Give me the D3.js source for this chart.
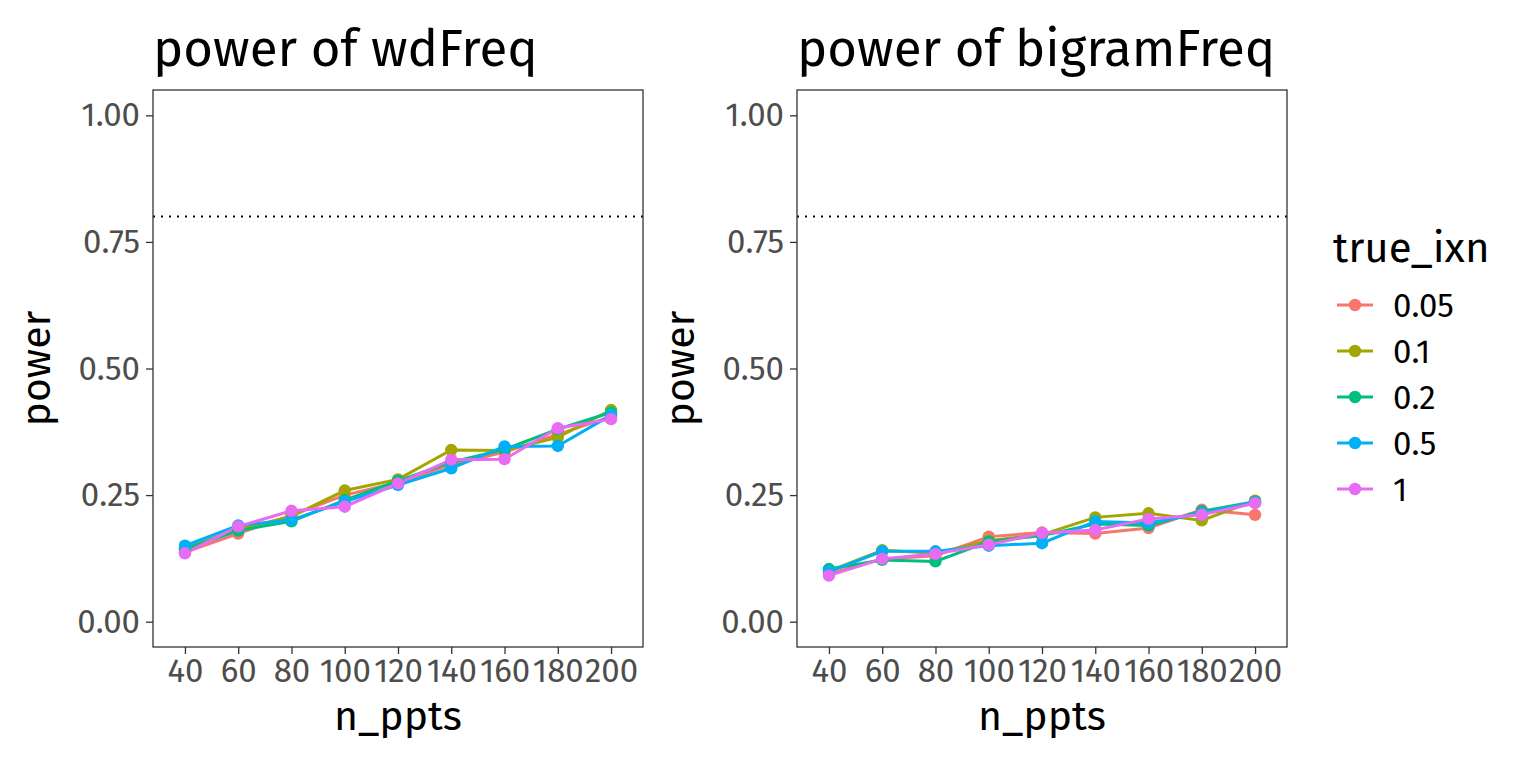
<!DOCTYPE html>
<html>
<head>
    <meta charset="utf-8">
    <script src="https://d3js.org/d3.v7.min.js"></script>
    <style>
        body { margin: 0; background: #fff; }
        text { font-family: "Fira Sans", "Noto Sans", sans-serif; }
    </style>
</head>
<body>
<script>
    var width = 1536, height = 768;

    var nPpts = ["40", "60", "80", "100", "120", "140", "160", "180", "200"];
    var trueIxn = ["0.05", "0.1", "0.2", "0.5", "1"];
    var colours = ["#F8766D", "#A3A500", "#00BF7D", "#00B0F6", "#E76BF3"];
    var yTicks = [0, 0.25, 0.5, 0.75, 1];

    // power of wdFreq, one row per true_ixn level
    var wdFreq = [
        [0.137, 0.174, 0.210, 0.250, 0.275, 0.310, 0.335, 0.370, 0.405],
        [0.145, 0.182, 0.208, 0.259, 0.281, 0.339, 0.338, 0.364, 0.418],
        [0.143, 0.180, 0.198, 0.240, 0.278, 0.315, 0.340, 0.380, 0.413],
        [0.150, 0.190, 0.201, 0.237, 0.270, 0.303, 0.346, 0.347, 0.408],
        [0.135, 0.188, 0.219, 0.227, 0.273, 0.320, 0.321, 0.382, 0.400]
    ];
    // power of bigramFreq
    var bigramFreq = [
        [0.095, 0.124, 0.130, 0.168, 0.176, 0.174, 0.185, 0.221, 0.211],
        [0.100, 0.141, 0.135, 0.160, 0.172, 0.206, 0.214, 0.200, 0.239],
        [0.104, 0.122, 0.119, 0.158, 0.170, 0.193, 0.190, 0.218, 0.237],
        [0.099, 0.139, 0.139, 0.150, 0.155, 0.198, 0.195, 0.214, 0.236],
        [0.091, 0.124, 0.134, 0.152, 0.175, 0.181, 0.203, 0.211, 0.234]
    ];
    var target = 0.8;

    var panels = [
        {title: "power of wdFreq", data: wdFreq, left: 153},
        {title: "power of bigramFreq", data: bigramFreq, left: 797}
    ];
    var pw = 490, pTop = 90, ph = 557;

    var svg = d3.select("body").append("svg")
        .attr("width", width)
        .attr("height", height);

    var y = d3.scaleLinear().domain([-0.05, 1.05]).range([pTop + ph, pTop]);

    panels.forEach(function(p) {
        var x = d3.scalePoint().domain(nPpts)
            .range([p.left, p.left + pw]).padding(0.6);

        var g = svg.append("g");

        // dotted target line
        g.append("line")
            .attr("x1", p.left).attr("x2", p.left + pw)
            .attr("y1", y(target)).attr("y2", y(target))
            .attr("stroke", "#000").attr("stroke-width", 2)
            .attr("stroke-dasharray", "2,6");

        var line = d3.line()
            .x(function(d, i) { return x(nPpts[i]); })
            .y(function(d) { return y(d); });

        g.selectAll(".series").data(p.data).enter().append("path")
            .attr("d", line)
            .attr("fill", "none")
            .attr("stroke", function(d, i) { return colours[i]; })
            .attr("stroke-width", 3);

        p.data.forEach(function(row, k) {
            g.selectAll(".pt" + k).data(row).enter().append("circle")
                .attr("cx", function(d, i) { return x(nPpts[i]); })
                .attr("cy", function(d) { return y(d); })
                .attr("r", 6.2)
                .attr("fill", colours[k]);
        });

        // panel border
        g.append("rect")
            .attr("x", p.left).attr("y", pTop)
            .attr("width", pw).attr("height", ph)
            .attr("fill", "none").attr("stroke", "#333").attr("stroke-width", 1.3);

        var ax = g.append("g")
            .attr("transform", "translate(0," + (pTop + ph) + ")")
            .call(d3.axisBottom(x).tickSize(7).tickPadding(5));
        var ay = g.append("g")
            .attr("transform", "translate(" + p.left + ",0)")
            .call(d3.axisLeft(y).tickValues(yTicks).tickFormat(d3.format(".2f")).tickSize(7).tickPadding(6));

        [ax, ay].forEach(function(a) {
            a.select(".domain").remove();
            a.selectAll(".tick line").attr("stroke", "#333").attr("stroke-width", 1.3);
            a.selectAll(".tick text")
                .attr("fill", "#4d4d4d")
                .style("font-size", "33px");
        });

        g.append("text")
            .attr("x", p.left).attr("y", 66)
            .style("font-size", "51px")
            .text(p.title);

        g.append("text")
            .attr("x", p.left + pw / 2).attr("y", 730)
            .attr("text-anchor", "middle")
            .style("font-size", "41px")
            .text("n_ppts");

        g.append("text")
            .attr("transform", "translate(" + (p.left - 103) + "," + (pTop + ph / 2) + ") rotate(-90)")
            .attr("text-anchor", "middle")
            .style("font-size", "41px")
            .text("power");
    });

    // legend
    var legend = svg.append("g").attr("transform", "translate(1333,0)");
    legend.append("text")
        .attr("x", 0).attr("y", 262)
        .style("font-size", "42px")
        .text("true_ixn");

    var item = legend.selectAll(".item").data(trueIxn).enter().append("g")
        .attr("transform", function(d, i) { return "translate(0," + (305 + i * 46) + ")"; });
    item.append("line")
        .attr("x1", 4).attr("x2", 40)
        .attr("stroke", function(d, i) { return colours[i]; })
        .attr("stroke-width", 3);
    item.append("circle")
        .attr("cx", 22).attr("r", 6.2)
        .attr("fill", function(d, i) { return colours[i]; });
    item.append("text")
        .attr("x", 60).attr("dy", "0.35em")
        .style("font-size", "33px")
        .text(function(d) { return d; });
</script>
</body>
</html>
